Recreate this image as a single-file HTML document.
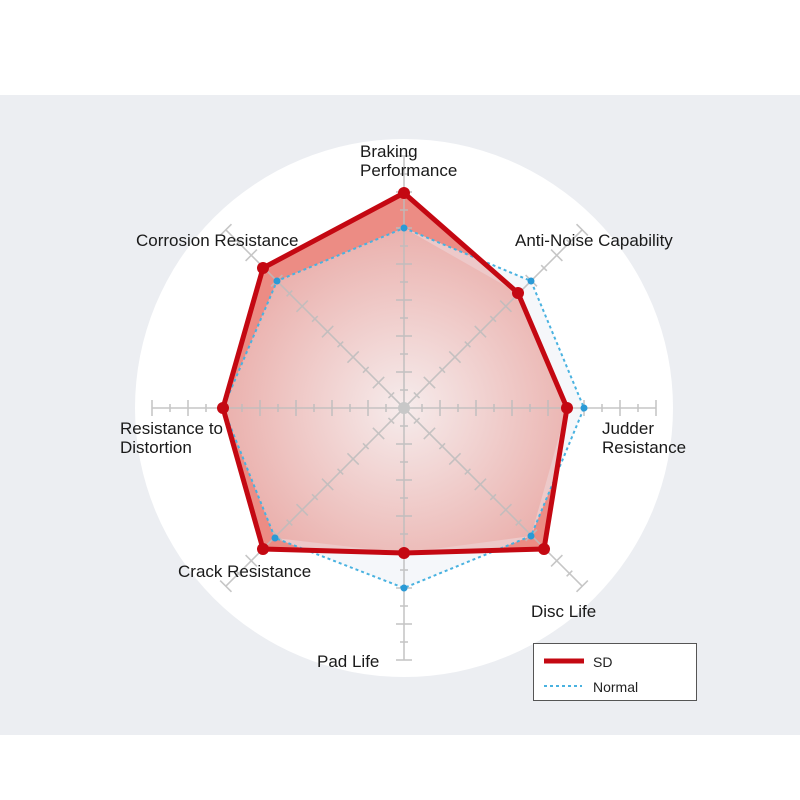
<!DOCTYPE html>
<html><head><style>
html,body{margin:0;padding:0;background:#fff;}
svg{display:block;font-family:"Liberation Sans",Arial,sans-serif;}
</style></head><body>
<svg id="s" width="800" height="800" viewBox="0 0 800 800" xmlns="http://www.w3.org/2000/svg">
<defs>
<radialGradient id="g" cx="404" cy="408" r="200" gradientUnits="userSpaceOnUse">
<stop offset="0" stop-color="#f6ecec"/>
<stop offset="1" stop-color="#e9aaa6"/>
</radialGradient>
</defs>
<rect x="0" y="95" width="800" height="640" fill="#eceef2"/>
<circle cx="404" cy="408" r="269" fill="#fff"/>
<polygon points="404,193 518,293 567,408 544,549 404,553 263,549 223,408 263,268" fill="#ec8c84"/>
<polygon points="404,228 531,281 584,408 531,536 404,588 275,538 223,408 277,281" fill="#eef2f6" opacity="0.6"/>
<polygon points="404,228 518,293 567,408 531,536 404,553 275,538 223,408 277,281" fill="url(#g)"/>
<g id="axes" stroke="#bdbdbd" stroke-width="1.6" opacity="0.85"></g>
<circle cx="404" cy="408" r="6" fill="#c8c8c8"/>
<polygon points="404,228 531,281 584,408 531,536 404,588 275,538 223,408 277,281" fill="none" stroke="#49b2e0" stroke-width="2" stroke-dasharray="3,3"/>
<polygon points="404,193 518,293 567,408 544,549 404,553 263,549 223,408 263,268" fill="none" stroke="#c40812" stroke-width="5" stroke-linejoin="round"/>
<g fill="#2a9ad6">
<circle cx="404" cy="228" r="3.5"/><circle cx="531" cy="281" r="3.5"/><circle cx="584" cy="408" r="3.5"/><circle cx="531" cy="536" r="3.5"/><circle cx="404" cy="588" r="3.5"/><circle cx="275" cy="538" r="3.5"/><circle cx="277" cy="281" r="3.5"/>
</g>
<g fill="#c40812">
<circle cx="404" cy="193" r="6"/><circle cx="518" cy="293" r="6"/><circle cx="567" cy="408" r="6"/><circle cx="544" cy="549" r="6"/><circle cx="404" cy="553" r="6"/><circle cx="263" cy="549" r="6"/><circle cx="223" cy="408" r="6"/><circle cx="263" cy="268" r="6"/>
</g>
<g font-size="17" fill="#1a1a1a">
<text x="360" y="157">Braking</text>
<text x="360" y="176">Performance</text>
<text x="136" y="246">Corrosion Resistance</text>
<text x="515" y="246">Anti-Noise Capability</text>
<text x="602" y="434">Judder</text>
<text x="602" y="453">Resistance</text>
<text x="120" y="434">Resistance to</text>
<text x="120" y="453">Distortion</text>
<text x="178" y="577">Crack Resistance</text>
<text x="531" y="617">Disc Life</text>
<text x="317" y="667">Pad Life</text>
</g>
<rect x="533.5" y="643.5" width="163" height="57" fill="#fff" stroke="#555" stroke-width="1"/>
<line x1="544" y1="661" x2="584" y2="661" stroke="#c40812" stroke-width="5"/>
<line x1="544" y1="686" x2="582" y2="686" stroke="#49b2e0" stroke-width="2" stroke-dasharray="3,3"/>
<text x="593" y="667" font-size="14" fill="#222">SD</text>
<text x="593" y="692" font-size="14" fill="#222">Normal</text>
</svg>
<script>
var g=document.getElementById('axes'),cx=404,cy=408,ns='http://www.w3.org/2000/svg';
function L(x1,y1,x2,y2){var l=document.createElementNS(ns,'line');l.setAttribute('x1',x1);l.setAttribute('y1',y1);l.setAttribute('x2',x2);l.setAttribute('y2',y2);g.appendChild(l);}
for(var k=0;k<8;k++){var a=k*Math.PI/4,dx=Math.cos(a),dy=Math.sin(a),px=-dy,py=dx;
L(cx,cy,cx+dx*252,cy+dy*252);
for(var i=1;i<=14;i++){var r=i*18,h=(i%2==0)?8:4,x=cx+dx*r,y=cy+dy*r;L(x-px*h,y-py*h,x+px*h,y+py*h);}}
</script>
</body></html>
